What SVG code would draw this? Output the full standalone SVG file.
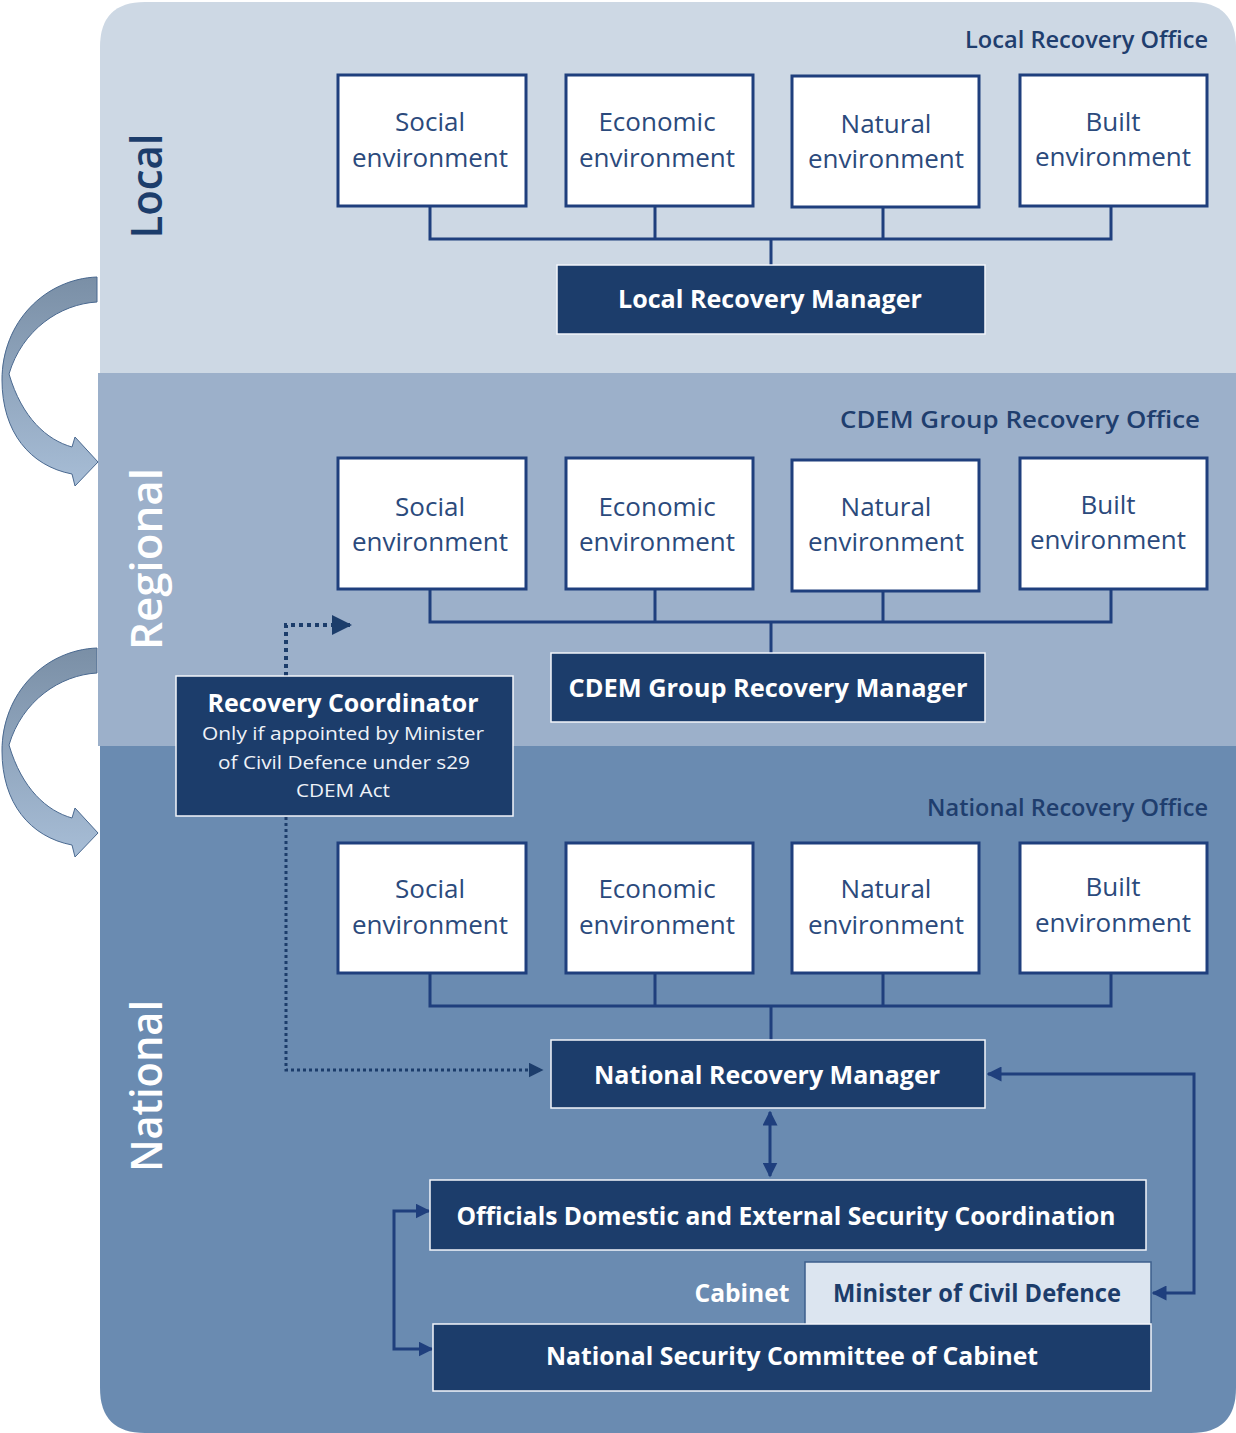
<svg xmlns="http://www.w3.org/2000/svg" width="1236" height="1433" viewBox="0 0 1236 1433">
<defs>
<style>
.env{fill:#fff;stroke:#1f3f7d;stroke-width:3}
.envt{font-family:"Open Sans","DejaVu Sans",sans-serif;font-size:26px;fill:#2b4a7c;text-anchor:middle}
.dark{fill:#1c3d6b;stroke:#f2f5fa;stroke-width:1.5}
.dt{font-family:"Open Sans","DejaVu Sans",sans-serif;font-weight:700;font-size:25px;fill:#fff;text-anchor:middle}
.off{font-family:"Open Sans","DejaVu Sans",sans-serif;font-weight:600;font-size:23px;fill:#1f3e6e;text-anchor:end}
.lvl{font-family:"Open Sans","DejaVu Sans",sans-serif;font-weight:600;font-size:44px;text-anchor:middle}
.tree{fill:none;stroke:#1f3f7d;stroke-width:3}
.conn{fill:none;stroke:#1f3f7d;stroke-width:3}
.dot{fill:none;stroke:#1c3d6b}
.small{font-family:"Open Sans","DejaVu Sans",sans-serif;font-size:19px;fill:#eef2f8;text-anchor:middle}
</style>
<marker id="ah" viewBox="0 0 10 10" refX="9" refY="5" markerWidth="5" markerHeight="5" orient="auto-start-reverse" markerUnits="strokeWidth">
<path d="M0,0 L10,5 L0,10 z" fill="#1f3f7d"/>
</marker>
<marker id="ahd" viewBox="0 0 10 10" refX="9" refY="5" markerWidth="5" markerHeight="5" orient="auto" markerUnits="strokeWidth">
<path d="M0,0 L10,5 L0,10 z" fill="#1c3d6b"/>
</marker>
<linearGradient id="cg" x1="0" y1="0" x2="0" y2="1">
<stop offset="0" stop-color="#7a8fa6"/>
<stop offset="1" stop-color="#a7bdd6"/>
</linearGradient>
<path id="curve" d="M97,277 L97,302 C60,304 22,330 9,374 C22,418 47,440 72,447 L75,437 L98,462 L75,486 L72,474 C30,466 2,432 2,380 C2,322 45,279 97,277 Z" fill="url(#cg)" stroke="#4a6990" stroke-width="1"/>
</defs>

<g id="bands">
<path d="M100,47 Q100,2 145,2 L1191,2 Q1236,2 1236,47 L1236,373 L100,373 Z" fill="#cdd8e4"/>
<rect x="98" y="373" width="1138" height="373" fill="#9cb0ca"/>
<path d="M100,746 L1236,746 L1236,1388 Q1236,1433 1191,1433 L145,1433 Q100,1433 100,1388 Z" fill="#6a8bb1"/>
</g>

<g id="level-arrows">
<use href="#curve"/>
<use href="#curve" transform="translate(0,371)"/>
</g>

<g id="level-labels">
<text class="lvl" fill="#1c3d6b" transform="translate(162,186) rotate(-90)" textLength="105" lengthAdjust="spacingAndGlyphs">Local</text>
<text class="lvl" fill="#ffffff" transform="translate(162,559) rotate(-90)" textLength="182" lengthAdjust="spacingAndGlyphs">Regional</text>
<text class="lvl" fill="#ffffff" transform="translate(162,1086) rotate(-90)" textLength="172" lengthAdjust="spacingAndGlyphs">National</text>
</g>

<g id="office-labels">
<text class="off" x="1208" y="48" textLength="243" lengthAdjust="spacingAndGlyphs">Local Recovery Office</text>
<text class="off" x="1200" y="428" textLength="360" lengthAdjust="spacingAndGlyphs">CDEM Group Recovery Office</text>
<text class="off" x="1208" y="816" textLength="281" lengthAdjust="spacingAndGlyphs">National Recovery Office</text>
</g>

<g id="connectors">
<path class="tree" d="M430,206 V239 H1111 V206 M655,206 V239 M883,206 V239 M771,239 V265"/>
<path class="tree" d="M430,589 V622 H1111 V589 M655,589 V622 M883,591 V622 M771,622 V653"/>
<path class="tree" d="M430,973 V1006 H1111 V973 M655,973 V1006 M883,973 V1006 M771,1006 V1040"/>
<path class="dot" stroke-width="4" stroke-dasharray="4 4" d="M286,676 V625 H350" marker-end="url(#ahd)"/>
<path class="dot" stroke-width="3" stroke-dasharray="3 3" d="M286,817 V1070 H542" marker-end="url(#ahd)"/>
<path class="conn" d="M770,1112 V1176" marker-start="url(#ah)" marker-end="url(#ah)"/>
<path class="conn" d="M1153,1293 H1194 V1074 H988" marker-start="url(#ah)" marker-end="url(#ah)"/>
<path class="conn" d="M429,1211 H394 V1349 H432" marker-start="url(#ah)" marker-end="url(#ah)"/>
</g>

<g id="local-social"><rect class="env" x="338" y="75" width="188" height="131"/><text class="envt" x="430" y="131">Social</text><text class="envt" x="430" y="167">environment</text></g>
<g id="local-economic"><rect class="env" x="566" y="75" width="187" height="131"/><text class="envt" x="657" y="131">Economic</text><text class="envt" x="657" y="167">environment</text></g>
<g id="local-natural"><rect class="env" x="792" y="76" width="187" height="131"/><text class="envt" x="886" y="133">Natural</text><text class="envt" x="886" y="168">environment</text></g>
<g id="local-built"><rect class="env" x="1020" y="75" width="187" height="131"/><text class="envt" x="1113" y="131">Built</text><text class="envt" x="1113" y="166">environment</text></g>
<g id="local-manager"><rect class="dark" x="557" y="265" width="428" height="69"/><text class="dt" x="770" y="308" textLength="304" lengthAdjust="spacingAndGlyphs">Local Recovery Manager</text></g>

<g id="regional-social"><rect class="env" x="338" y="458" width="188" height="131"/><text class="envt" x="430" y="516">Social</text><text class="envt" x="430" y="551">environment</text></g>
<g id="regional-economic"><rect class="env" x="566" y="458" width="187" height="131"/><text class="envt" x="657" y="516">Economic</text><text class="envt" x="657" y="551">environment</text></g>
<g id="regional-natural"><rect class="env" x="792" y="460" width="187" height="131"/><text class="envt" x="886" y="516">Natural</text><text class="envt" x="886" y="551">environment</text></g>
<g id="regional-built"><rect class="env" x="1020" y="458" width="187" height="131"/><text class="envt" x="1108" y="514">Built</text><text class="envt" x="1108" y="549">environment</text></g>
<g id="cdem-manager"><rect class="dark" x="551" y="653" width="434" height="69"/><text class="dt" x="768" y="697" textLength="399" lengthAdjust="spacingAndGlyphs">CDEM Group Recovery Manager</text></g>

<g id="recovery-coordinator"><rect class="dark" x="176" y="676" width="337" height="140"/>
<text class="dt" x="343" y="712" textLength="271" lengthAdjust="spacingAndGlyphs">Recovery Coordinator</text>
<text class="small" x="343" y="740" textLength="282" lengthAdjust="spacingAndGlyphs">Only if appointed by Minister</text>
<text class="small" x="344" y="769" textLength="252" lengthAdjust="spacingAndGlyphs">of Civil Defence under s29</text>
<text class="small" x="343" y="797" textLength="94" lengthAdjust="spacingAndGlyphs">CDEM Act</text>
</g>

<g id="national-social"><rect class="env" x="338" y="843" width="188" height="130"/><text class="envt" x="430" y="898">Social</text><text class="envt" x="430" y="934">environment</text></g>
<g id="national-economic"><rect class="env" x="566" y="843" width="187" height="130"/><text class="envt" x="657" y="898">Economic</text><text class="envt" x="657" y="934">environment</text></g>
<g id="national-natural"><rect class="env" x="792" y="843" width="187" height="130"/><text class="envt" x="886" y="898">Natural</text><text class="envt" x="886" y="934">environment</text></g>
<g id="national-built"><rect class="env" x="1020" y="843" width="187" height="130"/><text class="envt" x="1113" y="896">Built</text><text class="envt" x="1113" y="932">environment</text></g>
<g id="national-manager"><rect class="dark" x="551" y="1040" width="434" height="68"/><text class="dt" x="767" y="1084" textLength="346" lengthAdjust="spacingAndGlyphs">National Recovery Manager</text></g>

<g id="odesc"><rect class="dark" x="430" y="1180" width="716" height="70"/><text class="dt" x="786" y="1225" textLength="659" lengthAdjust="spacingAndGlyphs">Officials Domestic and External Security Coordination</text></g>
<g id="cabinet"><text class="dt" x="742" y="1302" textLength="95" lengthAdjust="spacingAndGlyphs">Cabinet</text></g>
<g id="minister"><rect x="805" y="1262" width="346" height="63" fill="#dce5f0" stroke="#3d5f8c" stroke-width="1.5"/><text class="dt" style="fill:#1c3d6b" x="977" y="1302" textLength="288" lengthAdjust="spacingAndGlyphs">Minister of Civil Defence</text></g>
<g id="nsc"><rect class="dark" x="433" y="1324" width="718" height="67"/><text class="dt" x="792" y="1365" textLength="492" lengthAdjust="spacingAndGlyphs">National Security Committee of Cabinet</text></g>
</svg>
